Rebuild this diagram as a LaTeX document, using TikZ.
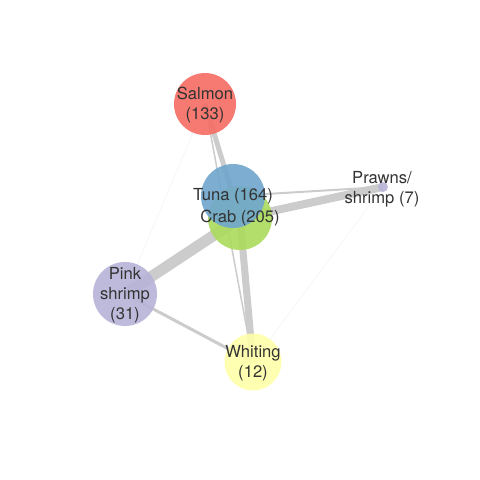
\documentclass[tikz,border=0pt]{standalone}
\usepackage{fontspec}
\setmainfont{TeX Gyre Heros}
\begin{document}
\begin{tikzpicture}[x=1pt,y=-1pt,
  species/.style={circle,inner sep=0pt,fill opacity=0.9,draw=none},
  lbl/.style={text=black!80,font=\fontsize{16.6}{20}\selectfont,align=center,inner sep=0pt},
  link/.style={draw=black!20,line cap=butt},
  faint/.style={draw=black!4,line width=0.6pt}]
\definecolor{salmonc}{HTML}{F66C62}
\definecolor{tunac}{HTML}{6FA6CE}
\definecolor{crabc}{HTML}{ABDB5C}
\definecolor{whitingc}{HTML}{FFFFAA}
\definecolor{shrimpc}{HTML}{B8B3D8}
\useasboundingbox (0,0) rectangle (480,480);
\fill[white] (0,0) rectangle (480,480);

% node positions
\coordinate (salmon) at (205,104);
\coordinate (tuna) at (233,196);
\coordinate (crab) at (240,218);
\coordinate (prawns) at (383,187);
\coordinate (pink) at (125,294);
\coordinate (whiting) at (253,362);

% connectors, weighted by shared records
\draw[faint] (salmon) -- (pink);
\draw[faint] (prawns) -- (whiting);
\draw[link,line width=1.5pt] (salmon) -- (whiting);
\draw[link,line width=3pt] (salmon) -- (tuna);
\draw[link,line width=5pt] (salmon) -- (crab);
\draw[link,line width=2pt] (tuna) -- (prawns);
\draw[link,line width=8pt] (crab) -- (prawns);
\draw[link,line width=11pt] (crab) -- (pink);
\draw[link,line width=7pt] (crab) -- (whiting);
\draw[link,line width=3pt] (pink) -- (whiting);

% species circles
\node[species,fill=salmonc,minimum size=62pt] (nsalmon) at (salmon) {};
\node[species,fill=crabc,minimum size=64pt] (ncrab) at (crab) {};
\node[species,fill=tunac,minimum size=64pt] (ntuna) at (tuna) {};
\node[species,fill=shrimpc,minimum size=10pt] (nprawns) at (prawns) {};
\node[species,fill=shrimpc,minimum size=64pt] (npink) at (pink) {};
\node[species,fill=whitingc,minimum size=57pt] (nwhiting) at (whiting) {};

% labels
\node[lbl] (tsalmon) at (205,105) {Salmon\\(133)};
\node[lbl] (ttuna) at (233,196) {Tuna (164)};
\node[lbl] (tcrab) at (240,218) {Crab (205)};
\node[lbl] (tprawns) at (382,189) {Prawns/\\shrimp (7)};
\node[lbl] (tpink) at (125,295) {Pink\\shrimp\\(31)};
\node[lbl] (twhiting) at (253,363) {Whiting\\(12)};
\end{tikzpicture}
\end{document}
